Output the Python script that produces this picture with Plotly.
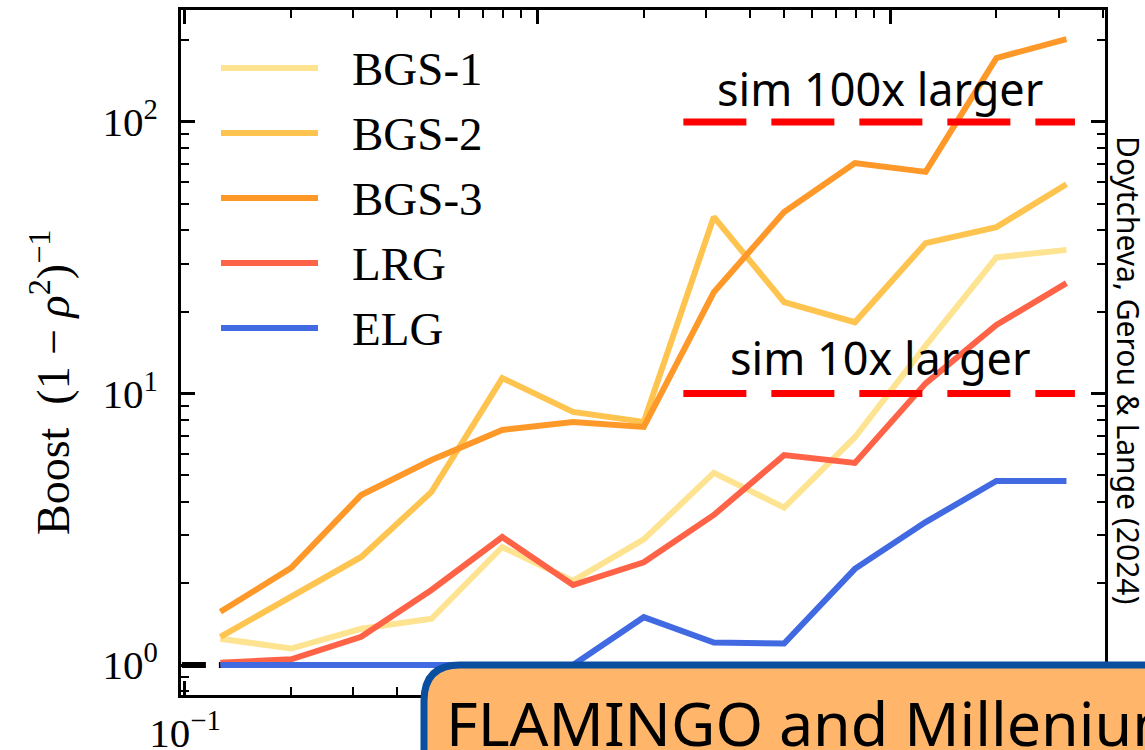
import plotly.graph_objects as go

# ---------------- data ----------------
x_vals = [0.126, 0.2, 0.316, 0.5, 0.794, 1.26, 2.0, 3.16, 5.0, 7.94, 12.6, 20.0, 31.6]

series_names = ["BGS-1", "BGS-2", "BGS-3", "LRG", "ELG"]
series_colors = ["#FEE391", "#FEC44F", "#FE9929", "#FF6347", "#4169E1"]

bgs1 = [1.25, 1.15, 1.36, 1.48, 2.72, 2.04, 2.9, 5.1, 3.8, 6.9, 15.0, 31.7, 33.8]
bgs2 = [1.27, 1.78, 2.5, 4.34, 11.4, 8.55, 7.85, 44.7, 21.7, 18.3, 35.8, 41.0, 59.0]
bgs3 = [1.57, 2.28, 4.23, 5.69, 7.34, 7.85, 7.53, 23.6, 46.6, 70.6, 65.5, 172.0, 202.0]
lrg = [1.02, 1.05, 1.27, 1.89, 2.96, 1.97, 2.39, 3.57, 5.93, 5.55, 10.9, 17.9, 25.5]
elg = [1.0, 1.0, 1.0, 1.0, 1.0, 1.0, 1.5, 1.21, 1.2, 2.26, 3.36, 4.76, 4.76]
series_values = [bgs1, bgs2, bgs3, lrg, elg]

ref_x = [0.098, 45.0]
ref_y = [1.0, 1.0]
sim_x = [2.59, 33.4]
sim_levels = [100.0, 10.0]
sim_labels = ["sim 100x larger", "sim 10x larger"]

x_major = [0.1, 1, 10]
x_major_text = ["10<sup>−1</sup>", "10<sup>0</sup>", "10<sup>1</sup>"]
x_minor = [0.2, 0.3, 0.4, 0.5, 0.6, 0.7, 0.8, 0.9, 2, 3, 4, 5, 6, 7, 8, 9, 20, 30, 40]
y_major = [1, 10, 100]
y_major_text = ["10<sup>0</sup>", "10<sup>1</sup>", "10<sup>2</sup>"]
y_minor = [0.8, 0.9, 2, 3, 4, 5, 6, 7, 8, 9, 20, 30, 40, 50, 60, 70, 80, 90, 200]

# ---------------- layout helpers (pixel -> paper) ----------------
W, H = 1145, 750
L, R, T, B = 181, 1105, 10, 695


def px(x):
    return (x - L) / (R - L)


def py(y):
    return (B - y) / (B - T)


fig = go.Figure()

# black reference line at 1 (mostly hidden)
fig.add_trace(go.Scatter(x=ref_x, y=ref_y, mode="lines",
                         line=dict(color="black", width=6, dash="24px,13px"),
                         showlegend=False, hoverinfo="skip"))

for name, col, vals in zip(series_names, series_colors, series_values):
    fig.add_trace(go.Scatter(x=x_vals, y=vals, mode="lines", name=name,
                             line=dict(color=col, width=6),
                             showlegend=False))

for lvl in sim_levels:
    fig.add_trace(go.Scatter(x=sim_x, y=[lvl, lvl], mode="lines",
                             line=dict(color="#FF0000", width=7, dash="63px,25px"),
                             showlegend=False, hoverinfo="skip"))

tickfont = dict(family="Liberation Serif", size=41, color="black")

fig.update_xaxes(type="log", range=[-1.0113, 1.609], automargin=False,
                 tickmode="array", tickvals=x_major, ticktext=x_major_text,
                 ticks="inside", ticklen=14, tickwidth=2.5, tickcolor="black",
                 showline=True, linecolor="black", linewidth=3, mirror="allticks",
                 showgrid=False, zeroline=False, tickfont=tickfont,
                 minor=dict(tickmode="array", tickvals=x_minor, ticks="inside",
                            ticklen=8, tickwidth=2, tickcolor="black", showgrid=False))
fig.update_yaxes(type="log", range=[-0.1105, 2.4125], automargin=False,
                 tickmode="array", tickvals=y_major, ticktext=y_major_text,
                 ticks="inside", ticklen=14, tickwidth=2.5, tickcolor="black",
                 showline=True, linecolor="black", linewidth=3, mirror="allticks",
                 showgrid=False, zeroline=False, tickfont=tickfont,
                 ticklabelstandoff=12,
                 minor=dict(tickmode="array", tickvals=y_minor, ticks="inside",
                            ticklen=8, tickwidth=2, tickcolor="black", showgrid=False))

annotations = []
shapes = []

# legend (manual)
legend_rows = [68, 133, 198, 263, 328]
for name, col, ry in zip(series_names, series_colors, legend_rows):
    shapes.append(dict(type="line", xref="paper", yref="paper",
                       x0=px(221), x1=px(318), y0=py(ry), y1=py(ry),
                       line=dict(color=col, width=6)))
    annotations.append(dict(xref="paper", yref="paper", x=px(350), y=py(ry + 1),
                            xanchor="left", yanchor="middle", showarrow=False,
                            text=name,
                            font=dict(family="Liberation Serif", size=47, color="black")))

# sim labels
for lbl, cy in zip(sim_labels, [88, 358]):
    annotations.append(dict(xref="paper", yref="paper", x=px(880), y=py(cy),
                            xanchor="center", yanchor="middle", showarrow=False,
                            text=lbl,
                            font=dict(family="Noto Sans", size=45, color="black")))

# y-axis title
annotations.append(dict(xref="paper", yref="paper", x=px(50), y=py(383),
                        xanchor="center", yanchor="middle", showarrow=False,
                        textangle=-90,
                        text="Boost  (1 − <i>ρ</i><sup>2</sup>)<sup>−1</sup>",
                        font=dict(family="Liberation Serif", size=46, color="black")))

# credit text
annotations.append(dict(xref="paper", yref="paper", x=px(1129), y=py(370),
                        xanchor="center", yanchor="middle", showarrow=False,
                        textangle=90,
                        text="Doytcheva, Gerou &amp; Lange (2024)",
                        font=dict(family="Noto Sans", size=30, color="black")))

# overlay box (rounded)
bx0, by0, rad = 424, 665, 36
bx1, by1 = 1170, 790
path = (f"M {px(bx0)},{py(by1)} L {px(bx0)},{py(by0 + rad)} "
        f"Q {px(bx0)},{py(by0)} {px(bx0 + rad)},{py(by0)} "
        f"L {px(bx1)},{py(by0)} L {px(bx1)},{py(by1)} Z")
shapes.append(dict(type="path", xref="paper", yref="paper", path=path,
                   fillcolor="#FFB66B", line=dict(color="#0A4F9F", width=7),
                   layer="above"))
annotations.append(dict(xref="paper", yref="paper", x=px(444), y=py(722),
                        xanchor="left", yanchor="middle", showarrow=False,
                        text="FLAMINGO and Millenium",
                        font=dict(family="Noto Sans", size=61, color="black")))

fig.update_layout(width=W, height=H,
                  margin=dict(l=L, r=W - R, t=T, b=H - B, pad=0),
                  paper_bgcolor="white", plot_bgcolor="white",
                  shapes=shapes, annotations=annotations, showlegend=False)

fig.write_html("out.html")
